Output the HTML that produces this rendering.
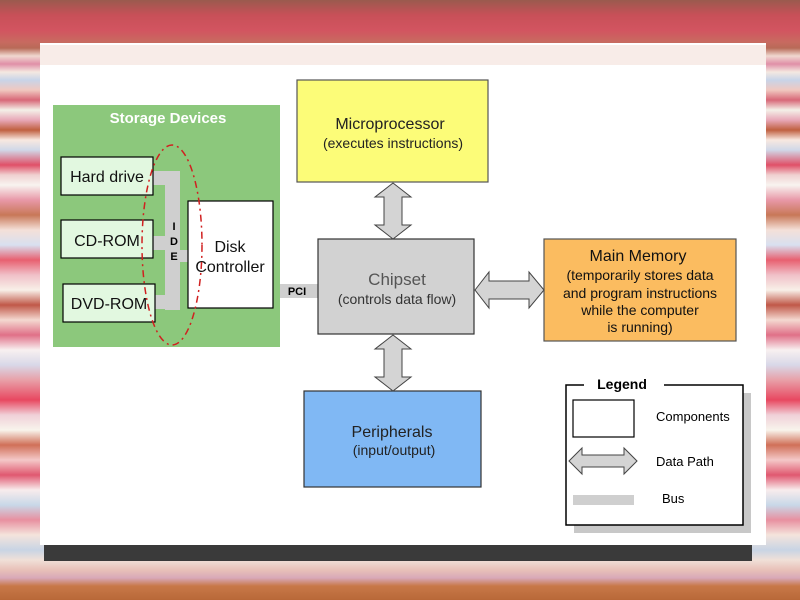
<!DOCTYPE html>
<html><head><meta charset="utf-8"><style>
html,body{margin:0;padding:0;width:800px;height:600px;overflow:hidden}
body{background:linear-gradient(to bottom,#9a5a4e 0px,#c85058 15px,#d25460 30px,#c86a60 42px,#b86a58 48px,#f0d8d0 56px,#e090a8 64px,#f4e8e0 72px,#c8d4e8 80px,#f0c8c0 90px,#d86878 100px,#f4f0e8 110px,#e8a8b8 120px,#c06040 130px,#f8e8e0 140px,#d0d8e8 150px,#e05068 165px,#f0d0d0 175px,#f8f4f0 185px,#e898a8 200px,#c87858 215px,#f4e0d8 230px,#d8e0f0 245px,#e86070 260px,#f0c0c8 275px,#f8f0e8 290px,#c05848 305px,#f4d8d0 320px,#e07088 335px,#f8f0f0 350px,#d8d8e8 365px,#e8a0a8 380px,#e84860 400px,#f0d0d8 415px,#f8f4ec 430px,#d07058 445px,#f4c8c8 460px,#e05870 475px,#f8ecec 490px,#c8d8e8 505px,#e890a0 520px,#f4e4dc 535px,#c8d4e4 550px,#f0e0d8 560px,#e8c0b8 570px,#d8a8b8 578px,#c87848 586px,#b86838 600px)}
</style></head><body>
<svg width="800" height="600" xmlns="http://www.w3.org/2000/svg" style="position:absolute;left:0;top:0;font-family:'Liberation Sans',sans-serif">
<rect x="44" y="545" width="708" height="16" fill="#3a3a3a"/>
<rect x="40" y="43" width="726" height="502" fill="#fff"/>
<rect x="40" y="45" width="726" height="20" fill="#f8ece8"/>
<rect x="53" y="105" width="227" height="242" fill="#8cc87c"/>
<text x="168" y="123" font-size="15" font-weight="bold" fill="#fff" text-anchor="middle">Storage Devices</text>
<g fill="#cfcfcf">
<rect x="165" y="171" width="15" height="139"/>
<rect x="153" y="171" width="15" height="14"/>
<rect x="153" y="236" width="15" height="14"/>
<rect x="155" y="295" width="12" height="14"/>
<rect x="178" y="250" width="12" height="12"/>
<rect x="280" y="284" width="38" height="14"/>
</g>
<g stroke="#000" stroke-width="1.2" fill="#e2f8e0">
<rect x="61" y="157" width="92" height="38"/>
<rect x="61" y="220" width="92" height="38"/>
<rect x="63" y="284" width="92" height="38"/>
</g>
<rect x="188" y="201" width="85" height="107" fill="#fff" stroke="#000" stroke-width="1.2"/>
<g font-size="16" fill="#111" text-anchor="middle">
<text x="107" y="182">Hard drive</text>
<text x="107" y="246">CD-ROM</text>
<text x="109" y="309">DVD-ROM</text>
<text x="230" y="252">Disk</text>
<text x="230" y="272">Controller</text>
</g>
<g font-size="11" font-weight="bold" text-anchor="middle">
<text x="174" y="230">I</text><text x="174" y="245">D</text><text x="174" y="260">E</text>
<text x="297" y="295">PCI</text>
</g>
<ellipse cx="172" cy="245" rx="30" ry="100" fill="none" stroke="#d02020" stroke-width="1.5" stroke-dasharray="7,4,2,4"/>
<rect x="297" y="80" width="191" height="102" fill="#fcfc78" stroke="#555" stroke-width="1.2"/>
<text x="390" y="129" font-size="16" text-anchor="middle" fill="#222">Microprocessor</text>
<text x="393" y="148" font-size="14" text-anchor="middle" fill="#222">(executes instructions)</text>
<rect x="318" y="239" width="156" height="95" fill="#d2d2d2" stroke="#333" stroke-width="1.2"/>
<text x="397" y="285" font-size="17" text-anchor="middle" fill="#555">Chipset</text>
<text x="397" y="304" font-size="14" text-anchor="middle" fill="#333">(controls data flow)</text>
<rect x="544" y="239" width="192" height="102" fill="#fbbc60" stroke="#555" stroke-width="1.2"/>
<g text-anchor="middle" fill="#111" font-size="14">
<text x="638" y="261" font-size="16">Main Memory</text>
<text x="640" y="280">(temporarily stores data</text>
<text x="640" y="298">and program instructions</text>
<text x="640" y="315">while the computer</text>
<text x="640" y="332">is running)</text>
</g>
<rect x="304" y="391" width="177" height="96" fill="#80b8f4" stroke="#333" stroke-width="1.2"/>
<text x="392" y="437" font-size="16" text-anchor="middle" fill="#222">Peripherals</text>
<text x="394" y="455" font-size="14" text-anchor="middle" fill="#222">(input/output)</text>
<g fill="#d4d4d4" stroke="#444" stroke-width="1">
<polygon points="393,183 411,197 402,197 402,225 411,225 393,239 375,225 384,225 384,197 375,197"/>
<polygon points="393,335 411,349 402,349 402,377 411,377 393,391 375,377 384,377 384,349 375,349"/>
<polygon points="475,290 489,272 489,281 529,281 529,272 544,290 529,308 529,299 489,299 489,308"/>
</g>
<rect x="574" y="393" width="177" height="140" fill="#c8c8c8"/>
<rect x="566" y="385" width="177" height="140" fill="#fff" stroke="#000" stroke-width="1.5"/>
<rect x="584" y="378" width="80" height="14" fill="#fff"/>
<text x="622" y="389" font-size="14" font-weight="bold" text-anchor="middle">Legend</text>
<rect x="573" y="400" width="61" height="37" fill="#fff" stroke="#000" stroke-width="1.2"/>
<text x="656" y="421" font-size="13">Components</text>
<polygon points="569,461 582,448 582,455 624,455 624,448 637,461 624,474 624,467 582,467 582,474" fill="#d4d4d4" stroke="#444"/>
<text x="656" y="466" font-size="13">Data Path</text>
<rect x="573" y="495" width="61" height="10" fill="#cfcfcf"/>
<text x="662" y="503" font-size="13">Bus</text>
</svg>
</body></html>
